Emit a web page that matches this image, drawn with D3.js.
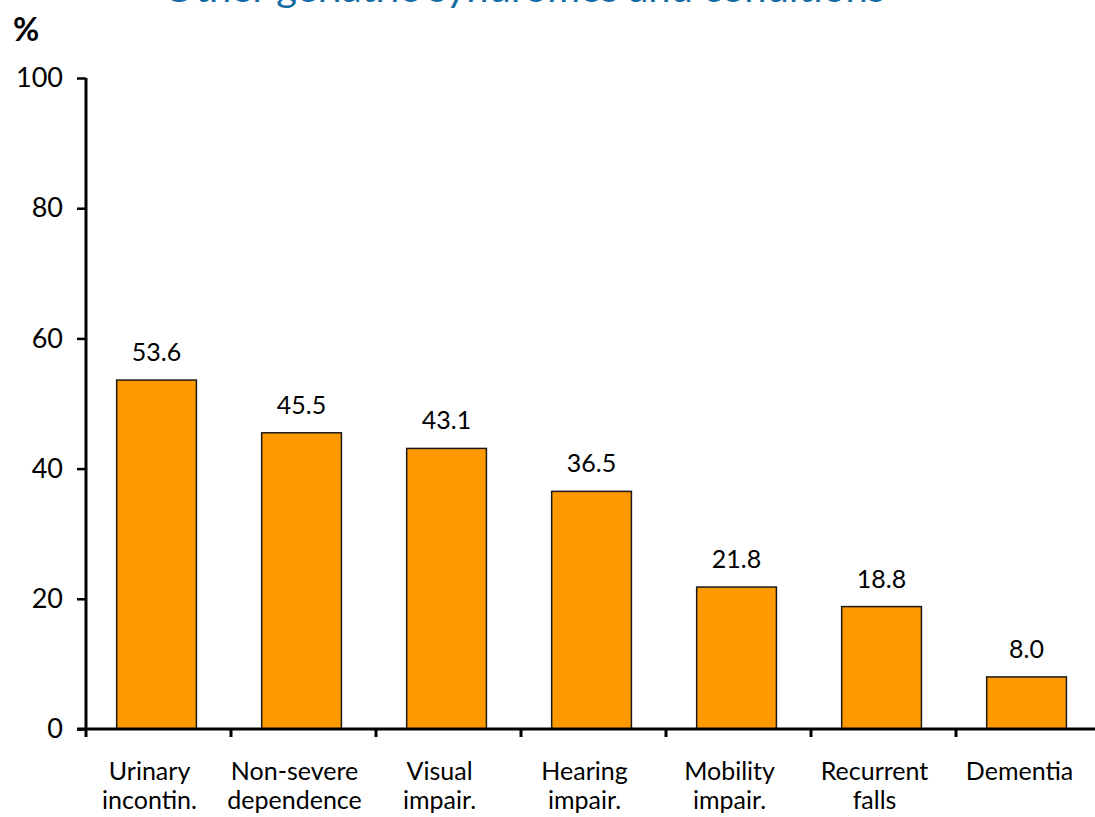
<!DOCTYPE html>
<html>
<head>
<meta charset="utf-8">
<script src="https://cdn.jsdelivr.net/npm/d3@7"></script>
<style>
  html, body { margin: 0; padding: 0; background: #fff; }
  svg { display: block; font-family: Lato, "Open Sans", sans-serif; }
</style>
</head>
<body>
<svg id="chart" width="1095" height="817"></svg>
<script>
// Prevalence of geriatric syndromes and conditions (%)
const categories = [
  ["Urinary", "incontin."],
  ["Non-severe", "dependence"],
  ["Visual", "impair."],
  ["Hearing", "impair."],
  ["Mobility", "impair."],
  ["Recurrent", "falls"],
  ["Dementia"]
];
const values = [53.6, 45.5, 43.1, 36.5, 21.8, 18.8, 8.0];
const yTicks = [0, 20, 40, 60, 80, 100];
const titleText = "Other geriatric syndromes and conditions";

const svg = d3.select("#chart");
const plot = { left: 86, right: 1101, top: 78, bottom: 729 };

const keys = categories.map(c => c.join(" "));
const x = d3.scaleBand().domain(keys).range([plot.left, plot.right])
  .paddingInner(0.45).paddingOuter(0.225).align(0.47);
const y = d3.scaleLinear().domain([0, 100]).range([plot.bottom, plot.top]);

// Title (runs off the top edge of the page)
svg.append("text")
  .attr("x", 163).attr("y", 2)
  .attr("fill", "#136ba6")
  .attr("font-size", 36)
  .attr("textLength", 722)
  .attr("lengthAdjust", "spacingAndGlyphs")
  .text(titleText);

// Unit label
svg.append("text")
  .attr("x", 13).attr("y", 41)
  .attr("font-size", 32).attr("font-weight", "bold")
  .text("%");

// Bars
svg.append("g").selectAll("rect")
  .data(values)
  .join("rect")
  .attr("x", (d, i) => x(keys[i]))
  .attr("width", x.bandwidth())
  .attr("y", d => y(d))
  .attr("height", d => y(0) - y(d))
  .attr("fill", "#ff9900")
  .attr("stroke", "#1a1a1a")
  .attr("stroke-width", 1.5);

// Value labels
svg.append("g").selectAll("text")
  .data(values)
  .join("text")
  .attr("x", (d, i) => x(keys[i]) + x.bandwidth() / 2)
  .attr("y", d => y(d) - 19)
  .attr("text-anchor", "middle")
  .attr("font-size", 25)
  .text(d => d.toFixed(1));

// Y axis
const yAxis = svg.append("g")
  .attr("transform", `translate(${plot.left},0)`)
  .call(d3.axisLeft(y).tickValues(yTicks).tickSize(9).tickPadding(14).tickSizeOuter(0));
yAxis.select(".domain").attr("stroke", "#000").attr("stroke-width", 3)
  .attr("d", `M0,${plot.bottom}V${plot.top}`);
yAxis.selectAll(".tick line").attr("stroke", "#000").attr("stroke-width", 2.5);
yAxis.selectAll(".tick text").attr("font-size", 27).attr("fill", "#000")
  .attr("font-family", "Lato, sans-serif");

// X axis with tick marks at category boundaries
const xAxis = svg.append("g").attr("transform", `translate(0,${plot.bottom})`);
xAxis.append("line")
  .attr("x1", plot.left - 9).attr("x2", 1095)
  .attr("stroke", "#000").attr("stroke-width", 3);
const step = x.step();
const boundaries = d3.range(keys.length).map(i => plot.left + i * step);
xAxis.selectAll(".bound")
  .data(boundaries)
  .join("line")
  .attr("class", "bound")
  .attr("x1", d => d).attr("x2", d => d)
  .attr("y1", 0).attr("y2", 8)
  .attr("stroke", "#000").attr("stroke-width", 3);

// Category labels (one or two lines)
const catLabels = xAxis.selectAll(".cat")
  .data(categories)
  .join("text")
  .attr("class", "cat")
  .attr("text-anchor", "middle")
  .attr("font-size", 25)
  .attr("transform", (d, i) => `translate(${x(keys[i]) + x.bandwidth() / 2 - 7},51)`);
catLabels.selectAll("tspan")
  .data(d => d)
  .join("tspan")
  .attr("x", 0)
  .attr("y", (d, i) => i * 29)
  .text(d => d);
</script>
</body>
</html>
